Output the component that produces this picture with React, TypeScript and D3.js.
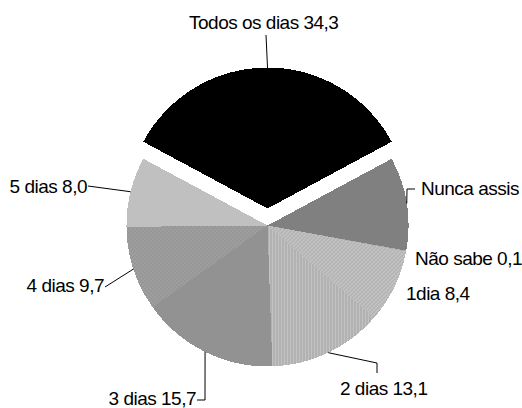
import React from "react";
import * as d3 from "d3";

const categories = ["Todos os dias", "Nunca assistiu", "Não sabe", "1 dia", "2 dias", "3 dias", "4 dias", "5 dias"];
const values = [34.3, 10.7, 0.1, 8.4, 13.1, 15.7, 9.7, 8.0];
const labelTexts = ["Todos os dias 34,3", "Nunca assis", "Não sabe 0,1", "1dia 8,4", "2 dias 13,1", "3 dias 15,7", "4 dias 9,7", "5 dias 8,0"];

const W = 522, H = 408;
const CX = 267.5, CY = 225.5, R = 141, EXPLODE = 17;

// label layout: text position, anchor, leader elbow points
const labelLayout: { x: number; y: number; anchor: string; leader: [number, number][] | null }[] = [
  { x: 189, y: 29, anchor: "start", leader: [[266, 35]] },
  { x: 421, y: 195, anchor: "start", leader: [[407, 189], [415, 189]] },
  { x: 415, y: 265, anchor: "start", leader: null },
  { x: 406, y: 300, anchor: "start", leader: null },
  { x: 340, y: 395, anchor: "start", leader: [[377, 363], [377, 373]] },
  { x: 196, y: 405, anchor: "end", leader: [[205, 400], [197, 400]] },
  { x: 104, y: 292, anchor: "end", leader: [[105, 287]] },
  { x: 87, y: 193, anchor: "end", leader: [[88, 186]] },
];

const fills = ["#000000", "#808080", "#b0b0b0", "url(#p1)", "url(#p2)", "url(#p3)", "url(#p4)", "#c0c0c0"];

export default function App() {
  const total = d3.sum(values);
  const a0 = (values[0] / total) * Math.PI;
  const pie = d3.pie<number>().sort(null).value((d) => d).startAngle(-a0).endAngle(2 * Math.PI - a0);
  const arcs = pie(values);
  const arc = d3.arc<d3.PieArcDatum<number>>().innerRadius(0).outerRadius(R);

  return (
    <svg width={W} height={H} style={{ position: "absolute", left: 0, top: 0, background: "#fff" }}
      fontFamily="'Liberation Sans', Arial, sans-serif">
      <defs>
        <pattern id="p1" width="4" height="4" patternUnits="userSpaceOnUse">
          <rect width="4" height="4" fill="#c4c4c4" />
          <rect x="0" y="0" width="1" height="1" fill="#969696" />
          <rect x="2" y="2" width="1" height="1" fill="#969696" />
          <rect x="1" y="3" width="1" height="1" fill="#a8a8a8" />
          <rect x="3" y="1" width="1" height="1" fill="#a8a8a8" />
        </pattern>
        <pattern id="p2" width="3" height="3" patternUnits="userSpaceOnUse">
          <rect width="3" height="3" fill="#c2c2c2" />
          <rect x="0" y="0" width="1" height="3" fill="#a2a2a2" />
        </pattern>
        <pattern id="p3" width="2" height="2" patternUnits="userSpaceOnUse">
          <rect width="2" height="2" fill="#a6a6a6" />
          <rect x="0" y="0" width="1" height="2" fill="#7e7e7e" />
        </pattern>
        <pattern id="p4" width="4" height="4" patternUnits="userSpaceOnUse">
          <rect width="4" height="4" fill="#979797" />
          <rect x="1" y="1" width="1" height="1" fill="#b2b2b2" />
          <rect x="3" y="3" width="1" height="1" fill="#b2b2b2" />
        </pattern>
      </defs>
      {arcs.map((a, i) => {
        const mid = (a.startAngle + a.endAngle) / 2;
        const off = i === 0 ? EXPLODE : 0;
        const dx = Math.sin(mid) * off, dy = -Math.cos(mid) * off;
        return (
          <path key={categories[i]} d={arc(a) || ""} fill={fills[i]}
            transform={`translate(${CX + dx},${CY + dy})`} shapeRendering="crispEdges" />
        );
      })}
      {arcs.map((a, i) => {
        const mid = (a.startAngle + a.endAngle) / 2;
        const off = i === 0 ? EXPLODE : 0;
        const px = CX + Math.sin(mid) * (R + off);
        const py = CY - Math.cos(mid) * (R + off);
        const L = labelLayout[i];
        const pts: [number, number][] = L.leader ? [[px, py], ...L.leader] : [];
        return (
          <g key={"l" + i}>
            {L.leader && (
              <path d={d3.line()(pts) || ""} fill="none" stroke="#000" strokeWidth={1} />
            )}
            <text x={L.x} y={L.y} textAnchor={L.anchor} fontSize={19} letterSpacing={-0.5} fill="#000">
              {labelTexts[i]}
            </text>
          </g>
        );
      })}
    </svg>
  );
}
